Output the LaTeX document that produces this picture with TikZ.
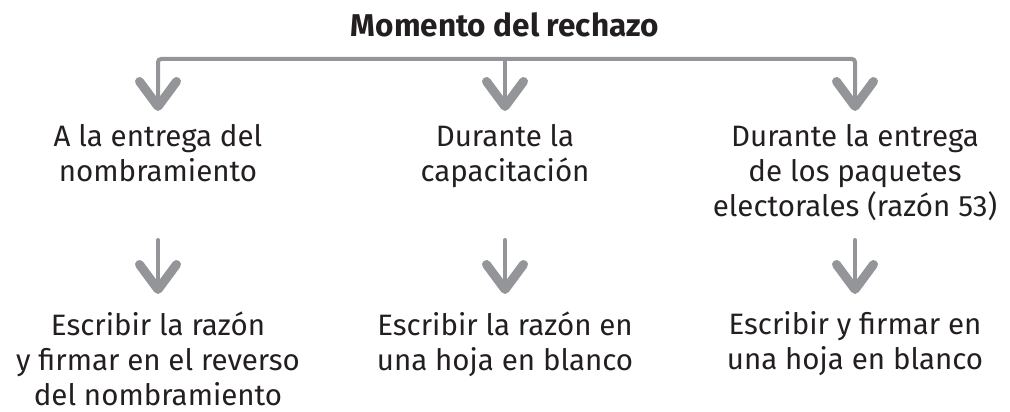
\documentclass[tikz,border=0pt]{standalone}
\usepackage{fontspec}
\setmainfont{Fira Sans}
\usetikzlibrary{arrows.meta}
\definecolor{linegray}{HTML}{939598}
\definecolor{inkgray}{HTML}{231F20}

\begin{document}
\begin{tikzpicture}[x=1pt, y=-1pt,
  txt/.style={align=center, inner sep=0pt, anchor=north, text=inkgray,
    font=\fontsize{29.5}{35}\selectfont, execute at begin node={\rule{0pt}{24pt}}},
  head/.style={txt, font=\fontsize{31.5}{35}\selectfont\bfseries},
  arr/.style={draw=linegray, line width=4pt, line cap=round, rounded corners=3pt,
    -{Straight Barb[length=25pt, width=37pt, line width=9pt, round]}}]
\useasboundingbox (0,0) rectangle (1010,412);
\node[head] (top) at (505,12.5) {Momento del rechazo};
\node[txt] (a1) at (158,124) {A la entrega del\\nombramiento};
\node[txt] (a2) at (505,124) {Durante la\\capacitación};
\node[txt] (a3) at (855,124) {Durante la entrega\\de los paquetes\\electorales (razón 53)};
\node[txt] (b1) at (158,311.5) {Escribir la razón\\y firmar en el reverso\\del nombramiento};
\node[txt] (b2) at (505,311.5) {Escribir la razón en\\una hoja en blanco};
\node[txt] (b3) at (855,311.5) {Escribir y firmar en\\una hoja en blanco};
\coordinate (split) at (505,59);
\coordinate (m1) at (158,240);
\coordinate (m2) at (505,240);
\coordinate (m3) at (855,240);
\draw[arr, shorten >=13pt] (split) -| (a1.north);
\draw[arr, shorten >=13pt] (split) -| (a3.north);
\draw[arr, shorten >=13pt] (split) -- (a2.north);
\draw[arr, shorten >=17.5pt] (m1) -- (b1.north);
\draw[arr, shorten >=17.5pt] (m2) -- (b2.north);
\draw[arr, shorten >=17.5pt] (m3) -- (b3.north);
\end{tikzpicture}
\end{document}
